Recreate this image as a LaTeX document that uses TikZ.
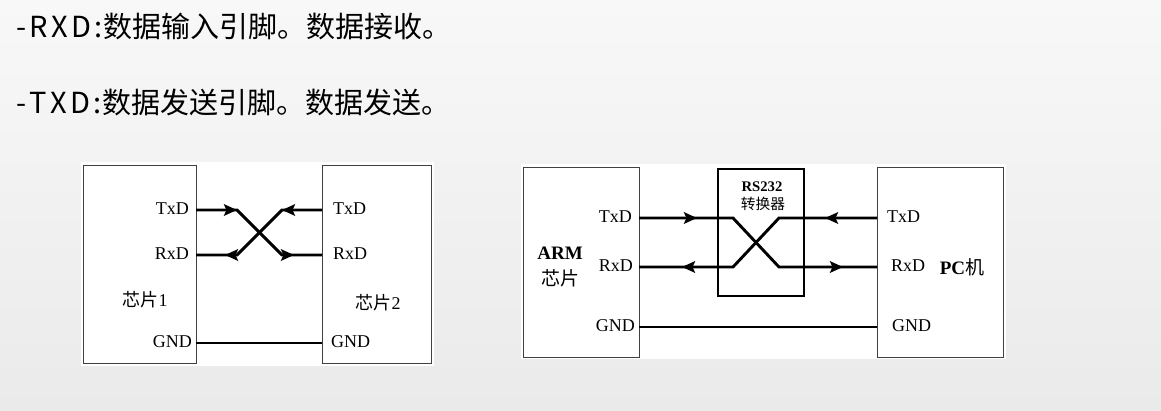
\documentclass[tikz,border=0pt]{standalone}
\usepackage{fontspec}
\setmainfont{Liberation Serif}
\newfontfamily\cjk{Noto Sans CJK SC}
\usetikzlibrary{arrows.meta}

\definecolor{bgtop}{HTML}{F8F8F8}
\definecolor{bgbot}{HTML}{EAEAEA}
\definecolor{boxline}{HTML}{404040}

\newcommand\lsp{\kern3.4pt}

\tikzset{
  chip/.style={draw=boxline, line width=0.9pt, fill=white, inner sep=0pt},
  wire/.style={line width=2.9pt},
  tip/.style={-{Stealth[length=13pt,width=11.5pt,inset=2.5pt]}},
  pin/.style={font=\fontsize{18}{18}\selectfont, inner sep=0pt},
  headline/.style={font=\cjk\fontsize{29}{30}\selectfont, inner sep=0pt, anchor=west},
}

\begin{document}
\begin{tikzpicture}[x=1pt,y=-1pt]
  \shade[top color=bgtop, bottom color=bgbot] (0,0) rectangle (1161,410);
  \useasboundingbox (0,0) rectangle (1161,410);

  % text lines
  \node[headline] (l1) at (16,26) {-\lsp R\lsp X\lsp D\lsp:\kern1pt 数据输入引脚。数据接收。};
  \node[headline] (l2) at (16,102) {-\lsp T\lsp X\lsp D\lsp:\kern1pt 数据发送引脚。数据发送。};

  % left panel: chip to chip
  \fill[white] (81,162) rectangle (434,366);
  \node[chip, minimum width=113pt, minimum height=198pt] (chip1) at (139.5,264) {};
  \node[chip, minimum width=109pt, minimum height=198pt] (chip2) at (376.5,264) {};

  \coordinate (c1tx) at (196,210);
  \coordinate (c1rx) at (196,255);
  \coordinate (c1gnd) at (196,343);
  \coordinate (c2tx) at (322,210);
  \coordinate (c2rx) at (322,255);
  \coordinate (c2gnd) at (322,343);
  \coordinate (k1) at (237,210);
  \coordinate (k2) at (282,210);
  \coordinate (k3) at (237,255);
  \coordinate (k4) at (282,255);
  \coordinate (m3) at (225,255);
  \coordinate (m4) at (294,255);

  \node[pin, anchor=east] (t1) at (189,209) {TxD};
  \node[pin, anchor=east] (r1) at (189,254) {RxD};
  \node[pin, anchor=east] (g1) at (192,342) {GND};
  \node[pin, anchor=west] (t2) at (333,209) {TxD};
  \node[pin, anchor=west] (r2) at (333,254) {RxD};
  \node[pin, anchor=west] (g2) at (331,342) {GND};
  \node[pin] (n1) at (145,300) {{\cjk 芯片}1};
  \node[pin] (n2) at (378,303) {{\cjk 芯片}2};

  \draw[wire] (c1tx) -- (k1) -- (k4) -- (c2rx);
  \draw[wire] (c2tx) -- (k2) -- (k3) -- (c1rx);
  \draw[wire] (c1gnd) -- (c2gnd);
  \draw[wire,tip] (c1tx) -- (k1);
  \draw[wire,tip] (k3) -- (m3);
  \draw[wire,tip] (c2tx) -- (k2);
  \draw[wire,tip] (k4) -- (m4);

  % right panel: ARM to PC over RS232
  \fill[white] (521,164) rectangle (1006,359);
  \node[chip, minimum width=116pt, minimum height=190pt] (arm) at (581,262) {};
  \node[chip, minimum width=126pt, minimum height=190pt] (pc) at (940,262) {};
  \node[draw, line width=2.9pt, minimum width=86pt, minimum height=127pt] (conv) at (761,232.5) {};

  \coordinate (armtx) at (639,218);
  \coordinate (armrx) at (639,267);
  \coordinate (armgnd) at (639,327);
  \coordinate (pctx) at (877,218);
  \coordinate (pcrx) at (877,267);
  \coordinate (pcgnd) at (877,327);
  \coordinate (b1) at (733,218);
  \coordinate (b2) at (779,218);
  \coordinate (b3) at (733,267);
  \coordinate (b4) at (779,267);
  \coordinate (a1) at (697,218);
  \coordinate (a2) at (825,218);
  \coordinate (a3) at (682,267);
  \coordinate (a4) at (843,267);

  \node[pin, anchor=east] (t3) at (632,217) {TxD};
  \node[pin, anchor=east] (r3) at (633,266) {RxD};
  \node[pin, anchor=east] (g3) at (635,326) {GND};
  \node[pin, anchor=west] (t4) at (887,217) {TxD};
  \node[pin, anchor=west] (r4) at (891,266) {RxD};
  \node[pin, anchor=west] (g4) at (892,326) {GND};
  \node[pin, font=\bfseries\fontsize{19}{19}\selectfont] (n3) at (560,253) {ARM};
  \node[pin, font=\cjk\fontsize{19}{19}\selectfont] (n4) at (560,278) {芯片};
  \node[pin, font=\fontsize{19}{19}\selectfont] (n5) at (962,267) {\textbf{PC}{\cjk 机}};
  \node[pin, font=\bfseries\fontsize{14.7}{15}\selectfont] (n6) at (762,187) {RS232};
  \node[pin, font=\cjk\fontsize{14.7}{15}\selectfont] (n7) at (763,204) {转换器};

  \draw[wire] (armtx) -- (b1) -- (b4) -- (pcrx);
  \draw[wire] (pctx) -- (b2) -- (b3) -- (armrx);
  \draw[wire] (armgnd) -- (pcgnd);
  \draw[wire,tip] (armtx) -- (a1);
  \draw[wire,tip] (b3) -- (a3);
  \draw[wire,tip] (pctx) -- (a2);
  \draw[wire,tip] (b4) -- (a4);
\end{tikzpicture}
\end{document}
